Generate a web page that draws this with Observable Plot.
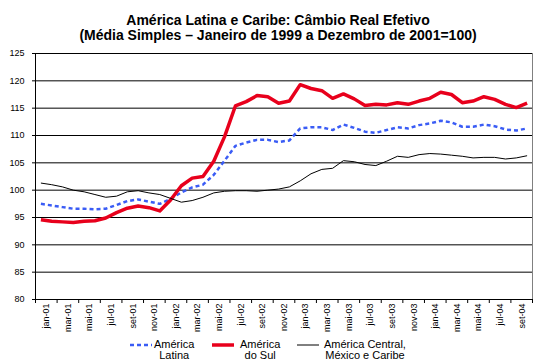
<!DOCTYPE html>
<html><head><meta charset="utf-8">
<script src="https://cdn.jsdelivr.net/npm/d3@7"></script>
<script src="https://cdn.jsdelivr.net/npm/@observablehq/plot@0.6"></script>
<style>
body{margin:0;background:#fff;font-family:"Liberation Sans",Arial,sans-serif;}
#wrap{position:relative;width:543px;height:363px;overflow:hidden;background:#fff;}
#title{position:absolute;left:0;top:13px;width:556px;text-align:center;font-weight:bold;font-size:14px;line-height:14.5px;color:#000;}
#chart{position:absolute;left:0;top:45px;}
.leg{position:absolute;top:339px;font-size:11px;line-height:11px;color:#000;}
.leg .txt{position:absolute;top:0;text-align:center;white-space:nowrap;}
.leg svg{position:absolute;top:4px;}
</style>
</head><body>
<div id="wrap">
  <div id="title">América Latina e Caribe: Câmbio Real Efetivo<br>(Média Simples – Janeiro de 1999 a Dezembro de 2001=100)</div>
  <div id="chart"></div>
  <div id="legend"></div>
</div>
<script>
const monthNames = ["jan","fev","mar","abr","mai","jun","jul","ago","set","out","nov","dez"];
const years = ["01","02","03","04"];
const nMonths = 46;
const yTicks = [80,85,90,95,100,105,110,115,120,125];

const americaLatina = [97.5,97.2,96.9,96.6,96.6,96.5,96.6,97.3,98.0,98.3,97.9,97.5,
  98.4,99.6,100.5,101.0,102.8,105.4,108.1,108.7,109.2,109.2,108.8,109.1,
  111.3,111.5,111.5,111.0,112.0,111.4,110.7,110.5,111.0,111.5,111.3,111.9,
  112.2,112.7,112.4,111.6,111.6,112.0,111.7,111.1,110.9,111.3];
const americaDoSul = [94.6,94.3,94.2,94.1,94.3,94.4,94.9,95.9,96.7,97.1,96.8,96.2,
  98.2,100.8,102.2,102.5,105.3,109.8,115.4,116.2,117.3,117.1,115.9,116.3,
  119.3,118.6,118.2,116.8,117.6,116.7,115.5,115.7,115.6,116.0,115.7,116.3,
  116.8,117.9,117.5,116.0,116.3,117.1,116.6,115.7,115.1,115.9];
const americaCentral = [101.3,101.0,100.6,100.0,99.7,99.2,98.7,98.9,99.7,99.9,99.5,99.2,
  98.5,97.8,98.1,98.7,99.5,99.8,99.9,99.9,99.8,100.0,100.2,100.6,
  101.7,103.0,103.8,104.0,105.4,105.2,104.7,104.5,105.3,106.2,106.0,106.5,
  106.7,106.6,106.4,106.2,105.9,106.0,106.0,105.7,105.9,106.3];

const seriesNames = ["América\nLatina","América\ndo Sul","América Central,\nMéxico e Caribe"];
const seriesColors = ["#3a5cf5","#e8001c","#000000"];
const seriesWidths = [2.5,3.5,1];
const seriesDash = ["4,3",null,null];
const seriesValues = [americaLatina, americaDoSul, americaCentral];

const months = [];
for (const y of years) for (const m of monthNames) months.push(m + "-" + y);
const monthLabels = months.slice(0, nMonths);

const labelIdx = d3.range(0, nMonths, 2);
const boundaryTicks = d3.range(-0.5, nMonths, 2).concat([nMonths - 0.5]);

const lineMarks = seriesValues.map((vals, k) =>
  Plot.line(vals.map((v, i) => ({i, v})), {
    x: "i", y: "v", stroke: seriesColors[k], strokeWidth: seriesWidths[k],
    strokeDasharray: seriesDash[k] || undefined, strokeLinejoin: "round", strokeLinecap: "butt"
  })
);

const chart = Plot.plot({
  width: 543, height: 291,
  marginLeft: 35, marginRight: 11, marginTop: 8, marginBottom: 37,
  x: {domain: [-0.5, nMonths - 0.5]},
  y: {domain: [yTicks[0], yTicks[yTicks.length - 1]]},
  style: {fontFamily: "'Liberation Sans', Arial, sans-serif", fontSize: "9px", color: "#000", background: "#fff"},
  marks: [
    Plot.frame({stroke: "#808080"}),
    Plot.gridY(yTicks.slice(1), {stroke: "#000", strokeOpacity: 1}),
    Plot.ruleX([-0.5], {stroke: "#000"}),
    Plot.ruleY([yTicks[0]], {stroke: "#000"}),
    Plot.axisY(yTicks, {tickSize: 3, tickPadding: 8, label: null, stroke: "#000", fill: "#000"}),
    Plot.axisX(boundaryTicks, {tickSize: 4, tickFormat: () => "", label: null, stroke: "#000"}),
    Plot.axisX(labelIdx, {tickSize: 0, tickRotate: -90, tickPadding: 4, dx: 5.4, tickFormat: i => monthLabels[i], label: null, fill: "#000"}),
    ...lineMarks
  ]
});
document.getElementById("chart").appendChild(chart);

// legend
const legSampleX = [130, 212, 297];
const legTextCenter = [174, 260, 365];
const legend = document.getElementById("legend");
seriesNames.forEach((name, k) => {
  const item = document.createElement("div");
  item.className = "leg";
  item.style.left = "0px";
  const svgNS = "http://www.w3.org/2000/svg";
  const svg = document.createElementNS(svgNS, "svg");
  svg.setAttribute("width", 22); svg.setAttribute("height", 4);
  svg.style.left = legSampleX[k] + "px";
  const ln = document.createElementNS(svgNS, "line");
  ln.setAttribute("x1", 0); ln.setAttribute("x2", 22);
  ln.setAttribute("y1", 2); ln.setAttribute("y2", 2);
  ln.setAttribute("stroke", seriesColors[k]);
  ln.setAttribute("stroke-width", seriesWidths[k]);
  if (seriesDash[k]) ln.setAttribute("stroke-dasharray", seriesDash[k]);
  svg.appendChild(ln);
  item.appendChild(svg);
  const txt = document.createElement("div");
  txt.className = "txt";
  txt.innerHTML = name.split("\n").join("<br>");
  item.appendChild(txt);
  legend.appendChild(item);
  const w = txt.offsetWidth;
  txt.style.left = (legTextCenter[k] - w / 2) + "px";
});
</script>
</body></html>
